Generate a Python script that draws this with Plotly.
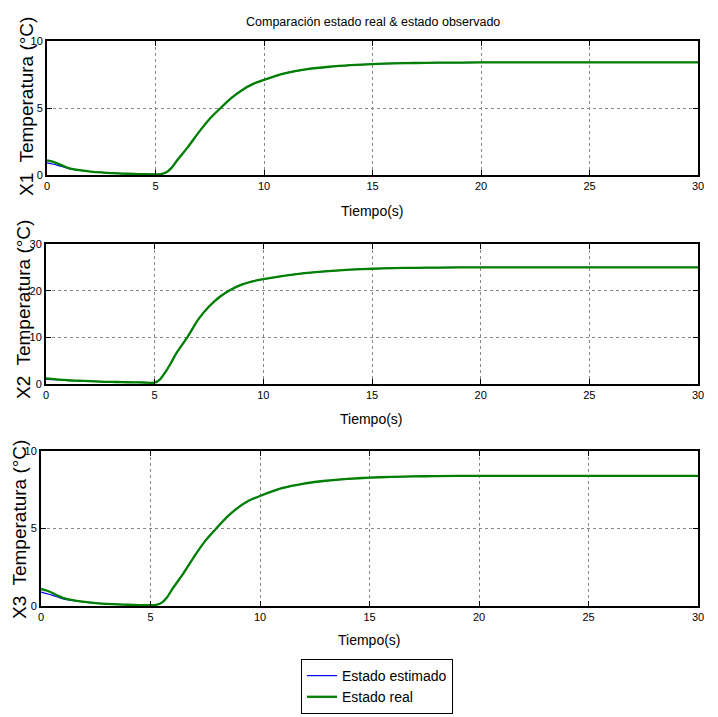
import plotly.graph_objects as go

W, H = 718, 717

# ---- data ----
t = [0, 0.25, 0.5, 0.75, 1, 1.5, 2, 2.5, 3, 3.5, 4, 4.5, 5, 5.25, 5.5, 5.75, 6,
     6.5, 7, 7.5, 8, 8.5, 9, 9.5, 10, 11, 12, 13, 14, 15, 16, 17, 18, 20, 25, 30]

x1_real = [1.1, 1.0, 0.85, 0.68, 0.52, 0.36, 0.26, 0.19, 0.14, 0.11, 0.08, 0.06, 0.05, 0.07, 0.2, 0.55, 1.1,
           2.1, 3.2, 4.2, 5.0, 5.75, 6.35, 6.8, 7.1, 7.6, 7.9, 8.08, 8.2, 8.28, 8.33, 8.36, 8.38, 8.4, 8.4, 8.4]
x1_est = [0.9, 0.82, 0.72, 0.6, 0.48, 0.35, 0.26, 0.19, 0.14, 0.11, 0.08, 0.06, 0.05, 0.07, 0.2, 0.55, 1.1,
          2.1, 3.2, 4.2, 5.0, 5.75, 6.35, 6.8, 7.1, 7.6, 7.9, 8.08, 8.2, 8.28, 8.33, 8.36, 8.38, 8.4, 8.4, 8.4]

x2_real = [1.2, 1.1, 1.0, 0.9, 0.8, 0.7, 0.6, 0.5, 0.45, 0.4, 0.35, 0.32, 0.3, 1.0, 2.6, 4.5, 6.6,
           10.0, 13.8, 16.6, 18.7, 20.2, 21.3, 22.0, 22.45, 23.2, 23.8, 24.2, 24.5, 24.7, 24.85, 24.9, 24.95, 25.0, 25.0, 25.0]
x2_est = [1.0, 0.95, 0.9, 0.84, 0.77, 0.68, 0.6, 0.5, 0.45, 0.4, 0.35, 0.32, 0.3, 1.0, 2.6, 4.5, 6.6,
          10.0, 13.8, 16.6, 18.7, 20.2, 21.3, 22.0, 22.45, 23.2, 23.8, 24.2, 24.5, 24.7, 24.85, 24.9, 24.95, 25.0, 25.0, 25.0]

x3_real = x1_real
x3_est = [0.9, 0.8, 0.7, 0.58, 0.46, 0.34, 0.25, 0.19, 0.14, 0.11, 0.08, 0.06, 0.05, 0.07, 0.2, 0.55, 1.1,
          2.1, 3.2, 4.2, 5.0, 5.75, 6.35, 6.8, 7.1, 7.6, 7.9, 8.08, 8.2, 8.28, 8.33, 8.36, 8.38, 8.4, 8.4, 8.4]

x_ticks = [0, 5, 10, 15, 20, 25, 30]
y_ticks = [[0, 5, 10], [0, 10, 20, 30], [0, 5, 10]]
y_ranges = [[0, 10], [0, 30], [0, 10]]
y_labels = ["X1  Temperatura (°C)", "X2  Temperatura (°C)", "X3  Temperatura (°C)"]
title = "Comparación estado real & estado observado"
xlabel = "Tiempo(s)"
names = ["Estado estimado", "Estado real"]

# ---- layout geometry (pixels) ----
boxes = [(47, 698, 41, 175), (46, 698, 244, 384), (41, 698, 451, 606)]
ylab_x = [26, 23, 19]
ylab_y = [107, 310, 530]
xlab_y = [211, 419, 640]

FONT = "Liberation Sans, Arial, sans-serif"

fig = go.Figure()
series = [(x1_est, x1_real), (x2_est, x2_real), (x3_est, x3_real)]
for i, (est, real) in enumerate(series):
    ax = "" if i == 0 else str(i + 1)
    fig.add_trace(go.Scatter(x=t, y=est, mode="lines", name=names[0],
                             line=dict(color="#0000ff", width=1.2, shape="spline", smoothing=0.6),
                             xaxis="x" + ax, yaxis="y" + ax, showlegend=(i == 0)))
    fig.add_trace(go.Scatter(x=t, y=real, mode="lines", name=names[1],
                             line=dict(color="#008000", width=2.3, shape="spline", smoothing=0.6),
                             xaxis="x" + ax, yaxis="y" + ax, showlegend=(i == 0)))

layout = dict(
    width=W, height=H, margin=dict(l=0, r=0, t=0, b=0, autoexpand=False),
    paper_bgcolor="white", plot_bgcolor="white",
    font=dict(family=FONT, size=11, color="black"),
    showlegend=True,
    legend=dict(x=301 / W, y=1 - 659 / H, xanchor="left", yanchor="top",
                bordercolor="black", borderwidth=1, bgcolor="white",
                font=dict(family=FONT, size=14), tracegroupgap=0,
                itemwidth=30),
)
annotations = [dict(text=title, x=0.5 * (48 + 697) / W, y=1 - 22 / H, xref="paper", yref="paper",
                    xanchor="center", yanchor="middle",
                    showarrow=False, font=dict(family=FONT, size=12.5))]
for i, (l, r, tp, bt) in enumerate(boxes):
    ax = "" if i == 0 else str(i + 1)
    layout["xaxis" + ax] = dict(
        domain=[l / W, r / W], range=[0, 30], tickvals=x_ticks,
        anchor="y" + ax, showgrid=True, gridcolor="#888888", griddash="dot", gridwidth=1,
        zeroline=False, showline=True, linecolor="black", linewidth=2, mirror="ticks",
        ticks="inside", ticklen=5, tickcolor="black",
        tickfont=dict(family=FONT, size=11))
    layout["yaxis" + ax] = dict(
        domain=[1 - bt / H, 1 - tp / H], range=y_ranges[i], tickvals=y_ticks[i],
        anchor="x" + ax, showgrid=True, gridcolor="#888888", griddash="dot", gridwidth=1,
        zeroline=False, showline=True, linecolor="black", linewidth=2, mirror="ticks",
        ticks="inside", ticklen=5, tickcolor="black",
        tickfont=dict(family=FONT, size=11))
    annotations.append(dict(text=xlabel, x=(l + r) / 2 / W, y=1 - xlab_y[i] / H,
                            xref="paper", yref="paper", showarrow=False,
                            xanchor="center", yanchor="middle",
                            font=dict(family=FONT, size=14)))
    annotations.append(dict(text=y_labels[i], x=ylab_x[i] / W, y=1 - ylab_y[i] / H,
                            xref="paper", yref="paper", showarrow=False, textangle=-90,
                            xanchor="center", yanchor="middle",
                            font=dict(family=FONT, size=19)))
layout["annotations"] = annotations
fig.update_layout(**layout)
fig.write_html("out.html", config={"displayModeBar": False},
               post_script="document.body.style.margin='0px';")
